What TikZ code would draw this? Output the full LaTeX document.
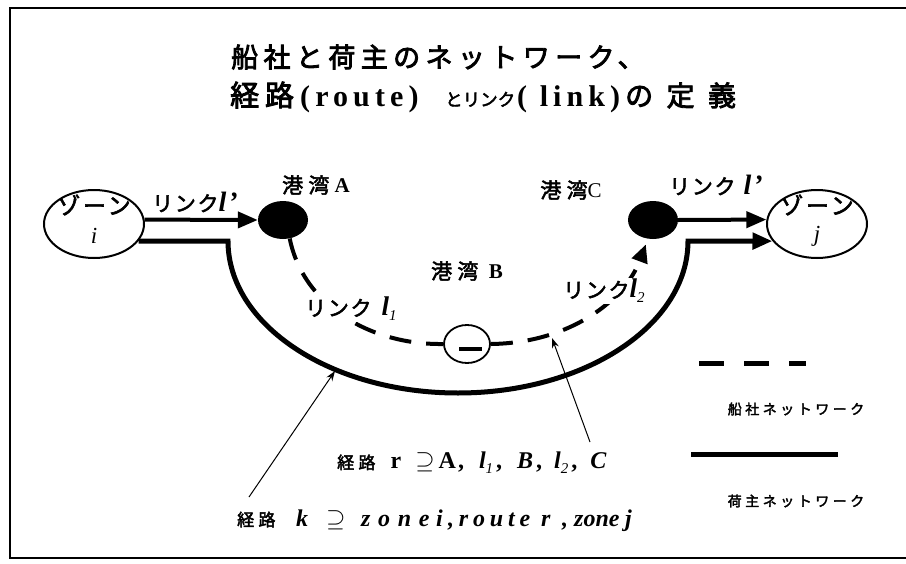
\documentclass[tikz,border=0pt]{standalone}
\usepackage{fontspec}
\setmainfont{Liberation Serif}
\newfontfamily\cjk[FakeBold=2.5]{Noto Sans CJK JP}
\newfontfamily\cjkt[FakeBold=3,LetterSpace=20]{Noto Sans CJK JP}
\newfontfamily\cjkw[FakeBold=3,LetterSpace=48]{Noto Sans CJK JP}
\newfontfamily\cjkm[FakeBold=2.5,LetterSpace=25]{Noto Sans CJK JP}
\newfontfamily\cjkz[FakeBold=2.5,LetterSpace=12]{Noto Sans CJK JP}
\newfontfamily\cjkr[FakeBold=2.5,LetterSpace=8]{Noto Sans CJK JP}
\newfontfamily\cjkl[FakeBold=2.5,LetterSpace=25]{Noto Sans CJK JP}
\newfontfamily\latsp[LetterSpace=17]{Liberation Serif}
\newfontfamily\latwide[LetterSpace=20]{Liberation Serif}
\newfontfamily\latwider[LetterSpace=32]{Liberation Serif}
\usetikzlibrary{arrows.meta,shapes.geometric}
\newcommand\myellp{{\fontsize{28}{28}\selectfont\bfseries\itshape l\kern2pt'}}
\newcommand\myell{{\fontsize{27}{27}\selectfont\bfseries\itshape l}}
\newcommand\mysub[1]{\raisebox{-5pt}{\fontsize{15}{15}\selectfont\itshape #1}}
\begin{document}
\begin{tikzpicture}[x=1pt,y=1pt,
  zone/.style={ellipse,draw,line width=2pt,minimum width=100pt,minimum height=68pt,inner sep=0pt},
  zonetext/.style={inner sep=0pt,font=\fontsize{23}{23}\selectfont},
  port/.style={ellipse,fill=black,minimum width=50pt,minimum height=38pt,inner sep=0pt},
  portb/.style={ellipse,draw,line width=1.8pt,minimum width=46pt,minimum height=38pt,inner sep=0pt},
  lab/.style={font=\fontsize{21}{22}\selectfont,inner sep=1pt},
  piece/.style={anchor=base west,inner sep=0pt},
  bigarrow/.style={line width=4pt,-{Triangle[length=20pt,width=16pt]}},
  heavy/.style={line width=5pt},
  dashline/.style={line width=4pt,dash pattern=on 22pt off 15pt},
  thinarrow/.style={line width=1pt,-{Stealth[length=10pt,width=7pt]}}
]
\useasboundingbox (0,0) rectangle (906,-563);
\draw[line width=1.2pt] (10,-8) rectangle (930,-558);
% title
\node[anchor=west,inner sep=0pt,font=\fontsize{27}{28}\selectfont] (t1) at (231,-57) {\cjkt 船社と荷主のネットワーク、};
\node[piece,font=\cjkt\fontsize{29}{29}\selectfont] (t2a) at (230,-106) {経路};
\node[piece,font=\latsp\bfseries\fontsize{30}{30}\selectfont] (t2b) at (300,-106) {(route)};
\node[piece,font=\cjk\fontsize{17.5}{18}\selectfont] (t2c) at (445,-106) {とリンク};
\node[piece,font=\latsp\bfseries\fontsize{30}{30}\selectfont] (t2d) at (517,-106) {( link)};
\node[piece,font=\cjkw\fontsize{28}{28}\selectfont] (t2e) at (625,-106) {の定義};
% zones and ports
\node[zone] (zi) at (94,-224) {};
\node[zonetext] (zit) at (94,-205) {\cjkz ゾーン};
\node[zonetext] (zii) at (94,-236) {\textit{i}};
\node[zone] (zj) at (817,-224) {};
\node[zonetext] (zjt) at (817,-205) {\cjkz ゾーン};
\node[zonetext] (zjj) at (817,-236) {\textit{j}};
\node[port] (A) at (283,-220) {};
\node[port] (C) at (653,-220) {};
\node[portb] (B) at (467,-344) {};
\draw[line width=4pt] ([xshift=-8pt,yshift=-5pt]B.center) -- ([xshift=15pt,yshift=-5pt]B.center);
% links l'
\draw[bigarrow] (zi.5) -- (A.west);
\draw[bigarrow] (C.east) -- (zj.175);
% shipper route
\draw[heavy,-{Triangle[length=20pt,width=16pt]}] (zi.-21) -- (228,-241) arc[start angle=180,end angle=360,x radius=230,y radius=152] -- (zj.201);
% carrier route
\draw[dashline] (A.-70) .. controls (303,-305) and (370,-345) .. (B.west);
\draw[dashline,shorten >=6pt,-{Triangle[length=18pt,width=16pt]}] (B.east) .. controls (570,-343) and (625,-300) .. (C.-105);
% labels
\node[lab] (la) at (316,-185) {{\cjkm 港湾}\textbf{A}};
\node[lab] (lc) at (571,-190) {{\cjkm 港湾}C};
\node[lab] (lb) at (467,-271) {{\cjkm 港湾}\ \ \textbf{B}};
\node[lab,anchor=west] (ll) at (151,-202) {{\cjkr リンク}\myellp};
\node[lab,anchor=west] (lr) at (668,-185) {{\cjkr リンク}\hspace{8pt}\myellp};
\node[lab,anchor=west,fill=white] (l1) at (304,-309) {{\cjkr リンク}\hspace{10pt}\myell\mysub{1}};
\node[lab,anchor=west,fill=white] (l2) at (562,-291) {{\cjkr リンク}\myell\mysub{2}};
% annotations
\coordinate (k0) at (249,-497);
\coordinate (k1) at (335,-371);
\draw[thinarrow] (k0) -- (k1);
\coordinate (r0) at (590,-442);
\coordinate (r1) at (552,-338);
\draw[thinarrow] (r0) -- (r1);
\node[anchor=west,inner sep=0pt,font=\fontsize{24}{24}\selectfont] (rt) at (337,-463) {{\cjkl\fontsize{17}{17}\selectfont 経路}\hspace{11pt}\textbf{r}\hspace{14pt}$\supseteq$\hspace{4pt}\textbf{A}\hspace{2pt}\textbf{,}\hspace{15pt}{\bfseries\itshape l}\mysub{1}\hspace{3pt}\textbf{,}\hspace{15pt}{\bfseries\itshape B}\hspace{3pt}\textbf{,}\hspace{12pt}{\bfseries\itshape l}\mysub{2}\hspace{3pt}\textbf{,}\hspace{13pt}{\bfseries\itshape C}};
% route k text
\node[piece,font=\cjkl\fontsize{17}{17}\selectfont] (kta) at (237,-526) {経路};
\node[piece,font=\fontsize{24}{24}\selectfont\bfseries\itshape] (ktb) at (296,-526) {k};
\node[piece,font=\fontsize{24}{24}\selectfont] (ktc) at (326,-526) {$\supseteq$};
\node[piece,font=\latwider\fontsize{24}{24}\selectfont\bfseries\itshape] (ktd) at (361,-526) {zone};
\node[piece,font=\fontsize{24}{24}\selectfont\bfseries\itshape] (kte) at (436,-526) {i};
\node[piece,font=\latwide\fontsize{24}{24}\selectfont\bfseries\itshape] (ktf) at (448,-526) {,route};
\node[piece,font=\fontsize{24}{24}\selectfont\bfseries\itshape] (ktg) at (541,-526) {r};
\node[piece,font=\fontsize{24}{24}\selectfont\bfseries\itshape] (kth) at (562,-526) {,};
\node[piece,font=\fontsize{24}{24}\selectfont\bfseries\itshape] (kti) at (574,-526) {zone};
\node[piece,font=\fontsize{24}{24}\selectfont\bfseries\itshape] (ktj) at (625,-526) {j};
% legend
\coordinate (d0) at (699,-363);
\coordinate (d1) at (806,-363);
\draw[line width=5pt,dash pattern=on 25pt off 20pt] (d0) -- (d1);
\node[inner sep=0pt,font=\fontsize{14}{15}\selectfont] (ls) at (796,-409) {\cjkl 船社ネットワーク};
\coordinate (s0) at (691,-454);
\coordinate (s1) at (838,-454);
\draw[line width=5pt] (s0) -- (s1);
\node[inner sep=0pt,font=\fontsize{14}{15}\selectfont] (lh) at (796,-501) {\cjkl 荷主ネットワーク};
\end{tikzpicture}
\end{document}
